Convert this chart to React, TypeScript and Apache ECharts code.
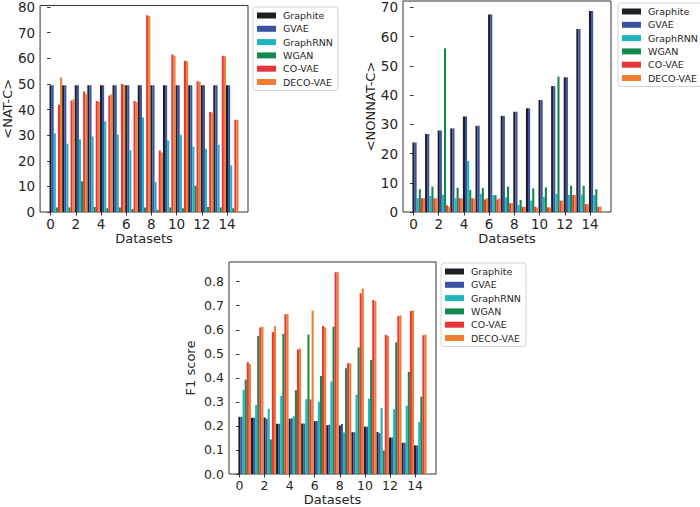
import React, { useEffect, useRef } from 'react';
import * as echarts from 'echarts';

const methods = ['Graphite', 'GVAE', 'GraphRNN', 'WGAN', 'CO-VAE', 'DECO-VAE'];
const colors = ['#1e1e24', '#3a52a4', '#1fb4c0', '#13894d', '#e8353c', '#f07e32'];

const xTicks = [0, 2, 4, 6, 8, 10, 12, 14];
const natTicks = [0, 10, 20, 30, 40, 50, 60, 70, 80];
const nonnatTicks = [0, 10, 20, 30, 40, 50, 60, 70];
const f1Ticks = [0, 0.1, 0.2, 0.3, 0.4, 0.5, 0.6, 0.7, 0.8];

// <NAT-C>
const natGraphite = [49.5, 49.5, 49.5, 49.5, 49.5, 49.5, 49.5, 49.5, 49.5, 49.5, 49.5, 49.5, 49.5, 49.5, 49.5];
const natGVAE = [49.5, 49.5, 49.5, 49.5, 49.5, 49.5, 49.5, 49.5, 49.5, 49.5, 49.5, 49.5, 49.5, 49.5, 49.5];
const natGraphRNN = [30.7, 26.6, 28.4, 29.5, 35.4, 30.2, 24.1, 36.9, 11.7, 27.9, 30.1, 25.6, 24.7, 26.2, 18.1];
const natWGAN = [1.8, 1.8, 12.0, 2.0, 1.5, 1.8, 1.2, 1.8, 0.8, 1.8, 1.5, 10.2, 2.0, 1.8, 1.5];
const natCOVAE = [41.9, 43.5, 47.0, 43.3, 45.5, 50.0, 43.3, 76.8, 24.0, 61.5, 59.0, 51.0, 39.0, 61.0, 36.0];
const natDECOVAE = [52.5, 44.0, 46.0, 43.0, 46.0, 49.7, 42.8, 76.5, 23.2, 61.0, 58.8, 50.8, 38.8, 60.8, 36.0];

// <NONNAT-C>
const nonGraphite = [23.8, 26.7, 27.9, 28.6, 32.7, 29.5, 67.6, 32.9, 34.3, 35.5, 38.3, 43.1, 46.1, 62.6, 68.8];
const nonGVAE = [23.8, 26.7, 27.9, 28.6, 32.7, 29.5, 67.6, 32.9, 34.3, 35.5, 38.3, 43.1, 46.1, 62.6, 68.8];
const nonGraphRNN = [4.7, 5.5, 5.9, 4.7, 17.5, 6.2, 5.8, 5.0, 2.4, 3.9, 5.2, 6.2, 5.8, 6.0, 5.8];
const nonWGAN = [7.8, 8.7, 56.0, 8.3, 7.5, 8.2, 5.8, 8.7, 4.1, 8.1, 8.4, 46.3, 9.0, 9.0, 7.8];
const nonCOVAE = [4.7, 4.7, 2.3, 4.7, 4.7, 4.3, 4.3, 3.0, 1.8, 1.8, 1.6, 3.9, 5.8, 2.7, 1.8];
const nonDECOVAE = [4.7, 4.7, 1.8, 4.7, 4.7, 4.7, 4.7, 3.0, 1.8, 1.5, 1.6, 3.9, 5.8, 2.7, 1.8];

// F1 score
const f1Graphite = [0.238, 0.234, 0.235, 0.209, 0.230, 0.210, 0.220, 0.203, 0.202, 0.174, 0.197, 0.175, 0.152, 0.130, 0.119];
const f1GVAE = [0.238, 0.234, 0.230, 0.209, 0.232, 0.210, 0.220, 0.205, 0.208, 0.174, 0.197, 0.170, 0.152, 0.130, 0.119];
const f1GraphRNN = [0.350, 0.287, 0.271, 0.325, 0.240, 0.311, 0.300, 0.385, 0.173, 0.330, 0.313, 0.274, 0.270, 0.284, 0.216];
const f1WGAN = [0.393, 0.574, 0.144, 0.583, 0.349, 0.580, 0.408, 0.613, 0.440, 0.527, 0.475, 0.098, 0.548, 0.425, 0.322];
const f1COVAE = [0.465, 0.610, 0.590, 0.665, 0.518, 0.310, 0.616, 0.839, 0.461, 0.752, 0.724, 0.579, 0.657, 0.678, 0.577];
const f1DECOVAE = [0.458, 0.613, 0.615, 0.665, 0.522, 0.680, 0.610, 0.840, 0.460, 0.772, 0.720, 0.575, 0.660, 0.680, 0.580];

const BAR_W = 1 / 6;
const FONT = 'DejaVu Sans';
const TXT = '#262626';

const panels = [
  {
    name: '<NAT-C>', ymax: 80.6, ticks: natTicks, fmt: (v: number) => String(v),
    data: [natGraphite, natGVAE, natGraphRNN, natWGAN, natCOVAE, natDECOVAE],
    grid: { left: 38, top: 4, width: 210, height: 208 },
    yGap: 22, xGap: 20, tickFont: 13.5, nameFont: 13,
    legend: { left: 253, top: 7 },
  },
  {
    name: '<NONNAT-C>', ymax: 72.2, ticks: nonnatTicks, fmt: (v: number) => String(v),
    data: [nonGraphite, nonGVAE, nonGraphRNN, nonWGAN, nonCOVAE, nonDECOVAE],
    grid: { left: 403, top: 1, width: 208, height: 211 },
    yGap: 19, xGap: 20, tickFont: 13.5, nameFont: 13,
    legend: { left: 618, top: 3 },
  },
  {
    name: 'F1 score', ymax: 0.882, ticks: f1Ticks, fmt: (v: number) => v.toFixed(1),
    data: [f1Graphite, f1GVAE, f1GraphRNN, f1WGAN, f1COVAE, f1DECOVAE],
    grid: { left: 229, top: 262, width: 207, height: 212 },
    yGap: 32, xGap: 19, tickFont: 12.5, nameFont: 13,
    legend: { left: 441, top: 263 },
  },
];

export default function App() {
  const ref = useRef<HTMLDivElement>(null);
  useEffect(() => {
    if (!ref.current) return;
    const chart = echarts.init(ref.current, undefined, { renderer: 'svg' });
    const grids: any[] = [];
    const xAxes: any[] = [];
    const yAxes: any[] = [];
    const legends: any[] = [];
    const series: any[] = [];
    panels.forEach((p, gi) => {
      grids.push({ ...p.grid, show: true, borderColor: '#333', borderWidth: 1, backgroundColor: 'transparent', containLabel: false });
      xAxes.push({
        type: 'value', gridIndex: gi, min: -0.8333, max: 15.6667,
        splitLine: { show: false }, axisLine: { show: false },
        axisTick: { show: true, length: 3.5, lineStyle: { color: '#333' }, customValues: xTicks },
        axisLabel: { customValues: xTicks, fontSize: p.tickFont, color: TXT, fontFamily: FONT, margin: 5 },
        name: 'Datasets', nameLocation: 'middle', nameGap: p.xGap,
        nameTextStyle: { fontSize: p.nameFont, color: TXT, fontFamily: FONT, verticalAlign: 'top' },
      });
      yAxes.push({
        type: 'value', gridIndex: gi, min: 0, max: p.ymax,
        splitLine: { show: false }, axisLine: { show: false },
        axisTick: { show: true, length: 3.5, lineStyle: { color: '#333' }, customValues: p.ticks },
        axisLabel: { customValues: p.ticks, formatter: p.fmt, fontSize: p.tickFont, color: TXT, fontFamily: FONT, margin: 5 },
        name: p.name, nameLocation: 'middle', nameGap: p.yGap,
        nameTextStyle: { fontSize: p.nameFont, color: TXT, fontFamily: FONT },
      });
      legends.push({
        left: p.legend.left, top: p.legend.top, orient: 'vertical', data: methods,
        icon: 'rect', itemWidth: 19, itemHeight: 6, itemGap: 2.3,
        selectedMode: false, backgroundColor: '#fff', borderColor: '#d4d4d4', borderWidth: 1,
        borderRadius: 3, padding: [3, 5, 3, 4],
        textStyle: { fontSize: 9.5, color: TXT, fontFamily: FONT, lineHeight: 11, padding: [0, 0, 0, 2] },
      });
      p.data.forEach((vals, k) => {
        const color = colors[k];
        series.push({
          type: 'custom', name: methods[k], xAxisIndex: gi, yAxisIndex: gi,
          itemStyle: { color }, encode: { x: 0, y: 1 }, clip: true,
          data: vals.map((v, i) => [i + k * BAR_W, v]),
          renderItem: (params: any, api: any) => {
            const x = api.value(0) as number;
            const y = api.value(1) as number;
            const tl = api.coord([x - BAR_W / 2, y]);
            const br = api.coord([x + BAR_W / 2, 0]);
            return {
              type: 'rect',
              shape: { x: tl[0], y: tl[1], width: br[0] - tl[0], height: br[1] - tl[1] },
              style: { fill: color },
            };
          },
        });
      });
    });
    chart.setOption({
      animation: false,
      backgroundColor: '#fff',
      textStyle: { fontFamily: FONT },
      grid: grids, xAxis: xAxes, yAxis: yAxes, legend: legends, series,
    });
    return () => chart.dispose();
  }, []);
  return <div ref={ref} style={{ position: 'absolute', left: 0, top: 0, width: 700, height: 507 }} />;
}
